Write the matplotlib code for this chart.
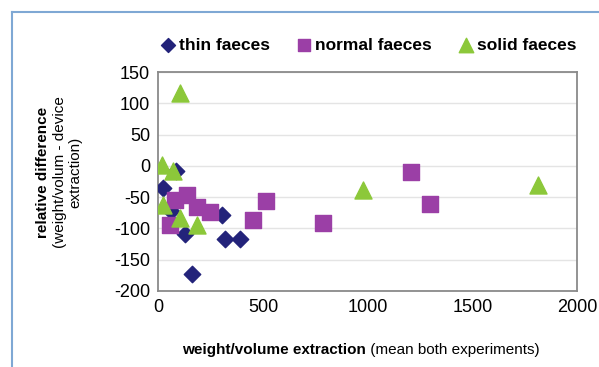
import matplotlib
matplotlib.use("Agg")
import matplotlib.pyplot as plt
from matplotlib.lines import Line2D

plt.rcParams['font.family'] = ['Liberation Sans', 'DejaVu Sans']
plt.rcParams['axes.unicode_minus'] = False

# thin faeces
thin_x = [85, 22, 60, 302, 127, 318, 390, 159]
thin_y = [-8, -35, -72, -78, -109, -117, -117, -173]
# normal faeces
normal_x = [135, 79, 182, 246, 55, 514, 452, 786, 1207, 1298]
normal_y = [-47, -55, -65, -73, -94, -56, -87, -91, -10, -61]
# solid faeces
solid_x = [103, 15, 70, 22, 103, 184, 979, 1812]
solid_y = [116, 1, -9, -62, -83, -94, -39, -31]

fig = plt.figure(figsize=(5.99, 3.67), dpi=100)
ax = fig.add_axes([0.2646, 0.2071, 0.6987, 0.5967])

ax.scatter(thin_x, thin_y, marker='D', s=70, color='#23237a', label='thin faeces', zorder=3)
ax.scatter(normal_x, normal_y, marker='s', s=120, color='#9b3fa6', label='normal faeces', zorder=3)
ax.scatter(solid_x, solid_y, marker='^', s=150, color='#8cc83a', label='solid faeces', zorder=3)

ax.set_xlim(0, 2000)
ax.set_ylim(-200, 150)
ax.set_xticks([0, 500, 1000, 1500, 2000])
ax.set_yticks(range(-200, 151, 50))
ax.yaxis.grid(True, color='#e4e4e4', linewidth=1)
ax.set_axisbelow(True)
ax.tick_params(length=0, labelsize=13, pad=6)
for s in ax.spines.values():
    s.set_color('#8a8a8a')
    s.set_linewidth(1.3)

leg = ax.legend(loc='lower center', bbox_to_anchor=(0.5, 1.055), ncol=3, frameon=False,
                prop={'weight': 'bold', 'size': 12.5}, handletextpad=0.1, markerscale=0.85,
                columnspacing=1.5, borderaxespad=0, scatterpoints=1, handlelength=1.0)

# axis titles with a bold part and a normal part
t1 = fig.text(0.304, 1 - 354 / 367, 'weight/volume extraction', fontsize=11,
              fontweight='bold', ha='left', va='baseline')
ax.annotate(' (mean both experiments)', xy=(1, 0), xycoords=t1, fontsize=11,
            ha='left', va='bottom')

fig.text(43 / 599, 1 - 172 / 367, 'relative difference', fontsize=11, fontweight='bold',
         rotation=90, ha='center', va='center')
fig.text(60 / 599, 1 - 172 / 367, '(weight/volum - device', fontsize=11,
         rotation=90, ha='center', va='center')
fig.text(75 / 599, 1 - 172 / 367, 'extraction)', fontsize=11,
         rotation=90, ha='center', va='center')

# light blue outer frame
fig.add_artist(Line2D([12 / 599, 12 / 599], [0, 1 - 12 / 367], color='#7fa8d4', lw=1.5))
fig.add_artist(Line2D([12 / 599, 1], [1 - 12 / 367, 1 - 12 / 367], color='#7fa8d4', lw=1.5))

fig.savefig('out.png', dpi=100)
